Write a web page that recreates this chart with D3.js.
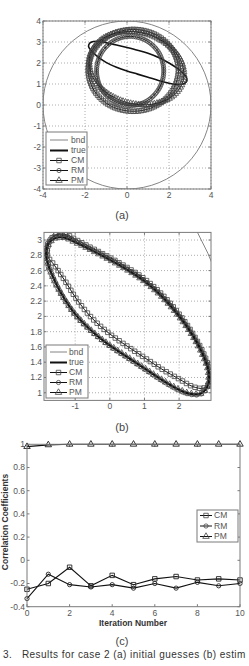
<!DOCTYPE html>
<html>
<head>
<meta charset="utf-8">
<script src="https://cdn.jsdelivr.net/npm/d3@7"></script>
<style>
body { margin: 0; background: #fff; }
svg { display: block; font-family: "Liberation Sans", Arial, sans-serif; }
</style>
</head>
<body>
<svg id="fig" width="249" height="666"></svg>
<script>
// ---- data ----
const bndCircle = {cx: 0, cy: 0, r: 4}

// true boundary (same in a and b)
const trueCurve = [[-1.83,2.78],[-1.78,2.94],[-1.6,3.02],[-1.3,3.03],[-1.0,2.97],[-0.5,2.86],[0,2.74],[0.5,2.61],[1.0,2.46],[1.5,2.26],[2.0,2.0],[2.4,1.74],[2.7,1.48],[2.85,1.27],[2.82,1.09],[2.62,0.99],[2.3,0.99],[2.0,1.04],[1.5,1.17],[1.0,1.32],[0.5,1.47],[0,1.62],[-0.5,1.8],[-1.0,2.03],[-1.4,2.3],[-1.68,2.56]]

// (a) initial guesses
const cmInit = [[2.45,1.65],[2.16,2.63],[1.38,3.34],[0.3,3.6],[-0.78,3.34],[-1.56,2.63],[-1.85,1.65],[-1.56,0.68],[-0.78,-0.04],[0.3,-0.3],[1.38,-0.04],[2.16,0.68]]
const rmInit = [[1.75,1.62],[1.54,2.45],[0.95,3.05],[0.15,3.27],[-0.65,3.05],[-1.24,2.45],[-1.45,1.62],[-1.24,0.8],[-0.65,0.19],[0.15,-0.03],[0.95,0.19],[1.54,0.8]]
const pmInit = [[2.67,1.15],[2.59,2.06],[1.94,2.87],[0.89,3.39],[-0.28,3.47],[-1.25,3.09],[-1.77,2.35],[-1.69,1.45],[-1.04,0.63],[0.01,0.11],[1.18,0.03],[2.15,0.41]]

// (b) estimated boundaries
const cmEst = [[-1.8,2.8],[-1.74,2.98],[-1.55,3.07],[-1.25,3.07],[-1.0,3.01],[-0.5,2.89],[0,2.77],[0.5,2.64],[1.0,2.49],[1.5,2.29],[2.0,2.03],[2.4,1.77],[2.72,1.5],[2.88,1.28],[2.87,1.12],[2.7,1.06],[2.4,1.08],[2.0,1.18],[1.5,1.31],[1.0,1.46],[0.5,1.61],[0,1.77],[-0.5,1.97],[-0.95,2.22],[-1.3,2.47],[-1.6,2.67]]
const rmEst = [[-1.85,2.78],[-1.8,2.96],[-1.62,3.05],[-1.3,3.06],[-1.0,2.99],[-0.5,2.87],[0,2.75],[0.5,2.62],[1.0,2.47],[1.5,2.27],[2.0,2.01],[2.4,1.75],[2.7,1.49],[2.86,1.27],[2.83,1.08],[2.62,0.98],[2.3,0.98],[2.0,1.03],[1.5,1.16],[1.0,1.31],[0.5,1.46],[0,1.61],[-0.5,1.79],[-1.0,2.02],[-1.42,2.3],[-1.7,2.56]]
const pmEst = [[-1.83,2.78],[-1.78,2.94],[-1.6,3.02],[-1.3,3.03],[-1.0,2.97],[-0.5,2.86],[0,2.74],[0.5,2.61],[1.0,2.46],[1.5,2.26],[2.0,2.0],[2.4,1.74],[2.7,1.48],[2.85,1.27],[2.82,1.09],[2.62,0.99],[2.3,0.99],[2.0,1.04],[1.5,1.17],[1.0,1.32],[0.5,1.47],[0,1.62],[-0.5,1.8],[-1.0,2.03],[-1.4,2.3],[-1.68,2.56]]

// (c) correlation coefficients
const iterations = [0,1,2,3,4,5,6,7,8,9,10]
const cmCorr = [-0.25,-0.2,-0.06,-0.22,-0.13,-0.21,-0.16,-0.14,-0.17,-0.16,-0.17]
const rmCorr = [-0.33,-0.12,-0.21,-0.23,-0.21,-0.24,-0.2,-0.24,-0.19,-0.22,-0.2]
const pmCorr = [0.98,0.995,1,1,1,1,1,1,1,1,1]

const xTicksA = [-4,-2,0,2,4], yTicksA = [-4,-3,-2,-1,0,1,2,3,4]
const xTicksB = [-1,0,1,2], yTicksB = [1,1.2,1.4,1.6,1.8,2,2.2,2.4,2.6,2.8,3]
const xTicksC = [0,2,4,6,8,10], yTicksC = [-0.4,-0.2,0,0.2,0.4,0.6,0.8,1]
const markerCount = 100

// ---- drawing ----
const svg = d3.select('#fig')
const frameColor = '#7a7a7a', textColor = '#555'
const shapes = {
    CM: d3.symbol(d3.symbolSquare, 20)(),
    RM: d3.symbol(d3.symbolCircle, 14)(),
    PM: d3.symbol(d3.symbolTriangle, 18)()
}

function makeAxes(id, box, xDomain, yDomain, xTicks, yTicks, grid, fmt) {
    const g = svg.append('g')
    const x = d3.scaleLinear().domain(xDomain).range([box.left, box.right])
    const y = d3.scaleLinear().domain(yDomain).range([box.bottom, box.top])
    g.append('clipPath').attr('id', id).append('rect')
        .attr('x', box.left).attr('y', box.top)
        .attr('width', box.right - box.left).attr('height', box.bottom - box.top)
    if (grid) {
        g.selectAll('.gx').data(xTicks).join('line')
            .attr('x1', d => x(d)).attr('x2', d => x(d))
            .attr('y1', box.top).attr('y2', box.bottom)
            .attr('stroke', '#999').attr('stroke-width', 0.8).attr('stroke-dasharray', '1,2')
        g.selectAll('.gy').data(yTicks).join('line')
            .attr('y1', d => y(d)).attr('y2', d => y(d))
            .attr('x1', box.left).attr('x2', box.right)
            .attr('stroke', '#999').attr('stroke-width', 0.8).attr('stroke-dasharray', '1,2')
    }
    // inner ticks on all sides
    const tl = 2.5
    xTicks.forEach(t => {
        g.append('line').attr('x1', x(t)).attr('x2', x(t)).attr('y1', box.bottom).attr('y2', box.bottom - tl).attr('stroke', frameColor)
        g.append('line').attr('x1', x(t)).attr('x2', x(t)).attr('y1', box.top).attr('y2', box.top + tl).attr('stroke', frameColor)
    })
    yTicks.forEach(t => {
        g.append('line').attr('y1', y(t)).attr('y2', y(t)).attr('x1', box.left).attr('x2', box.left + tl).attr('stroke', frameColor)
        g.append('line').attr('y1', y(t)).attr('y2', y(t)).attr('x1', box.right).attr('x2', box.right - tl).attr('stroke', frameColor)
    })
    g.selectAll('.xl').data(xTicks).join('text')
        .attr('x', d => x(d)).attr('y', box.bottom + 9)
        .attr('text-anchor', 'middle').attr('font-size', 8.5).attr('fill', textColor)
        .text(d => fmt(d))
    g.selectAll('.yl').data(yTicks).join('text')
        .attr('x', box.left - 2).attr('y', d => y(d)).attr('dy', '0.35em')
        .attr('text-anchor', 'end').attr('font-size', 8.5).attr('fill', textColor)
        .text(d => fmt(d))
    const plot = g.append('g').attr('clip-path', `url(#${id})`)
    return {g, plot, x, y, box}
}

function frame(ax) {
    const b = ax.box
    ax.g.append('rect').attr('x', b.left).attr('y', b.top)
        .attr('width', b.right - b.left).attr('height', b.bottom - b.top)
        .attr('fill', 'none').attr('stroke', frameColor).attr('stroke-width', 1)
}

function drawBoundary(ax) {
    // circle in data units, so x and y radii follow each scale
    ax.plot.append('ellipse')
        .attr('cx', ax.x(bndCircle.cx)).attr('cy', ax.y(bndCircle.cy))
        .attr('rx', ax.x(bndCircle.r) - ax.x(0))
        .attr('ry', ax.y(0) - ax.y(bndCircle.r))
        .attr('fill', 'none').attr('stroke', '#777').attr('stroke-width', 0.9)
}

function drawLoop(ax, pts, name, width) {
    const line = d3.line().x(d => ax.x(d[0])).y(d => ax.y(d[1]))
        .curve(d3.curveCatmullRomClosed.alpha(0.5))
    const p = ax.plot.append('path').attr('d', line(pts))
        .attr('fill', 'none').attr('stroke', '#111').attr('stroke-width', width)
    if (!name) return
    const node = p.node(), len = node.getTotalLength()
    const mg = ax.plot.append('g').attr('fill', 'none').attr('stroke', '#444').attr('stroke-width', 0.8)
    d3.range(markerCount).forEach(i => {
        const q = node.getPointAtLength(len * i / markerCount)
        mg.append('path').attr('d', shapes[name]).attr('transform', `translate(${q.x},${q.y})`)
    })
}

function legend(entries, left, top, w, h, rowY, lx0, lx1, tx) {
    const g = svg.append('g')
    g.append('rect').attr('x', left).attr('y', top).attr('width', w).attr('height', h)
        .attr('fill', '#fff').attr('stroke', frameColor).attr('stroke-width', 1)
    entries.forEach((name, i) => {
        const yy = rowY[i]
        const isBnd = name === 'bnd', isTrue = name === 'true'
        g.append('line').attr('x1', lx0).attr('x2', lx1).attr('y1', yy).attr('y2', yy)
            .attr('stroke', isBnd ? '#777' : '#111').attr('stroke-width', isTrue ? 2 : (isBnd ? 0.9 : 1))
        if (shapes[name]) {
            g.append('path').attr('d', shapes[name])
                .attr('transform', `translate(${(lx0 + lx1) / 2},${yy})`)
                .attr('fill', 'none').attr('stroke', '#444').attr('stroke-width', 0.8)
        }
        g.append('text').attr('x', tx).attr('y', yy).attr('dy', '0.35em')
            .attr('font-size', 8.5).attr('fill', textColor).text(name)
    })
}

function caption(txt, cx, cy) {
    svg.append('text').attr('x', cx).attr('y', cy).attr('text-anchor', 'middle')
        .attr('font-size', 11).attr('fill', '#444').text(txt)
}

// (a)
const axA = makeAxes('clipA', {left: 43, right: 211, top: 21, bottom: 189}, [-4, 4], [-4, 4], xTicksA, yTicksA, true, d => d)
drawBoundary(axA)
drawLoop(axA, trueCurve, null, 1.6)
drawLoop(axA, cmInit, 'CM', 1)
drawLoop(axA, rmInit, 'RM', 1)
drawLoop(axA, pmInit, 'PM', 1)
frame(axA)
legend(['bnd', 'true', 'CM', 'RM', 'PM'], 46, 132, 41, 53, [140, 150.5, 160.5, 170.5, 180.5], 50, 68, 71)
caption('(a)', 122, 219)

// (b)
const axB = makeAxes('clipB', {left: 44, right: 211, top: 232.4, bottom: 400.4}, [-1.9, 2.92], [0.9, 3.1], xTicksB, yTicksB, true, d => d)
drawBoundary(axB)
drawLoop(axB, trueCurve, null, 2)
drawLoop(axB, cmEst, 'CM', 1)
drawLoop(axB, rmEst, 'RM', 1)
drawLoop(axB, pmEst, 'PM', 1)
frame(axB)
legend(['bnd', 'true', 'CM', 'RM', 'PM'], 46, 345, 42, 53, [352, 362.5, 372.5, 382.5, 392.5], 50, 67, 69)
caption('(b)', 122, 431)

// (c)
const axC = makeAxes('clipC', {left: 27, right: 240, top: 444.3, bottom: 606.7}, [0, 10], [-0.4, 1], xTicksC, yTicksC, false, d => d)
const series = [['CM', cmCorr], ['RM', rmCorr], ['PM', pmCorr]]
series.forEach(([name, vals]) => {
    const line = d3.line().x((d, i) => axC.x(iterations[i])).y(d => axC.y(d))
    axC.g.append('path').attr('d', line(vals)).attr('fill', 'none')
        .attr('stroke', '#111').attr('stroke-width', 1.1)
    axC.g.selectAll(null).data(vals).join('path')
        .attr('d', shapes[name])
        .attr('transform', (d, i) => `translate(${axC.x(iterations[i])},${axC.y(d)})`)
        .attr('fill', 'none').attr('stroke', '#222').attr('stroke-width', 0.9)
})
frame(axC)
legend(['CM', 'RM', 'PM'], 197, 510, 41, 32, [515.5, 526, 536.5], 200, 212, 214)
svg.append('text').attr('x', 133).attr('y', 626).attr('text-anchor', 'middle')
    .attr('font-size', 8.5).attr('font-weight', 'bold').attr('fill', '#333').text('Iteration Number')
svg.append('text').attr('transform', 'translate(8,522) rotate(-90)').attr('text-anchor', 'middle')
    .attr('font-size', 8.5).attr('font-weight', 'bold').attr('fill', '#333').text('Correlation Coefficients')
caption('(c)', 122, 645)

svg.append('text').attr('x', 3).attr('y', 658).attr('font-size', 10).attr('fill', '#333')
    .attr('letter-spacing', 0.45).attr('xml:space', 'preserve')
    .text('3.   Results for case 2 (a) initial guesses (b) estim')
</script>
</body>
</html>
